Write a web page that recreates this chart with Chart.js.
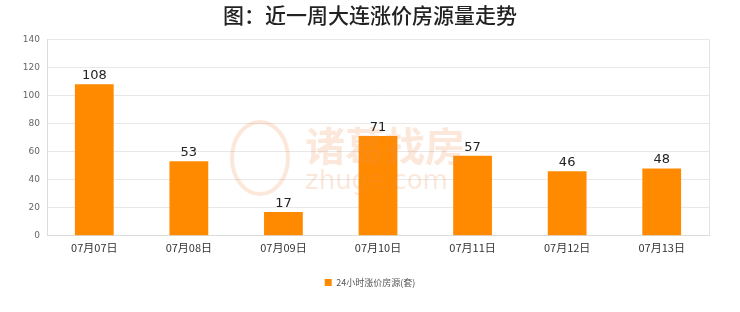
<!DOCTYPE html>
<html>
<head>
<meta charset="utf-8">
<script src="https://cdn.jsdelivr.net/npm/chart.js@4.4.0/dist/chart.umd.min.js"></script>
<style>
    html, body { margin: 0; padding: 0; background: #fff; }
    #wrap { width: 740px; height: 312px; position: relative; }
</style>
</head>
<body>
<div id="wrap"><canvas id="priceChart"></canvas></div>
<script>
// 数据
const categories = ['07月07日', '07月08日', '07月09日', '07月10日', '07月11日', '07月12日', '07月13日'];
const riseCounts = [108, 53, 17, 71, 57, 46, 48];
const yTicks = [0, 20, 40, 60, 80, 100, 120, 140];

const FONT = '"Noto Sans CJK SC", "DejaVu Sans", sans-serif';

// 柱顶数值 + 右边框 + 水印
const extras = {
    id: 'extras',
    beforeDatasetsDraw(chart) {
        const ctx = chart.ctx;
        const a = chart.chartArea;
        ctx.save();
        ctx.strokeStyle = '#e3e3e3';
        ctx.lineWidth = 1;
        ctx.beginPath();
        ctx.moveTo(Math.round(a.right) + 0.5, a.top);
        ctx.lineTo(Math.round(a.right) + 0.5, a.bottom);
        ctx.stroke();
        ctx.restore();
    },
    afterDatasetsDraw(chart) {
        const ctx = chart.ctx;
        ctx.save();
        // 水印
        ctx.globalAlpha = 0.2;
        ctx.fillStyle = '#f08a4b';
        ctx.textAlign = 'left';
        ctx.textBaseline = 'middle';
        ctx.font = 'bold 40px ' + FONT;
        ctx.fillText('诸葛找房', 305, 146);
        ctx.font = '26px "DejaVu Sans", sans-serif';
        ctx.fillText('zhuge.com', 305, 182);
        ctx.beginPath();
        ctx.ellipse(260, 158, 28, 36, 0, 0, Math.PI * 2);
        ctx.lineWidth = 4;
        ctx.strokeStyle = '#f08a4b';
        ctx.stroke();
        ctx.globalAlpha = 1;
        // 数值
        ctx.fillStyle = '#222';
        ctx.font = '13px "DejaVu Sans", sans-serif';
        ctx.textAlign = 'center';
        ctx.textBaseline = 'bottom';
        chart.getDatasetMeta(0).data.forEach((bar, i) => {
            ctx.fillText(String(riseCounts[i]), bar.x, bar.y - 2);
        });
        ctx.restore();
    }
};

const chartCtx = document.getElementById('priceChart').getContext('2d');
const priceChart = new Chart(chartCtx, {
    type: 'bar',
    data: {
        labels: categories,
        datasets: [{
            label: '24小时涨价房源(套)',
            data: riseCounts,
            backgroundColor: '#ff8a00',
            borderWidth: 0,
            categoryPercentage: 1,
            barPercentage: 0.41
        }]
    },
    options: {
        responsive: true,
        maintainAspectRatio: false,
        animation: false,
        layout: {
            padding: { left: 0, right: 0, top: 0, bottom: 15 }
        },
        plugins: {
            title: {
                display: true,
                text: '图：近一周大连涨价房源量走势',
                color: '#222',
                font: { size: 21, family: FONT, weight: '500' },
                padding: { top: 2, bottom: 12 }
            },
            legend: {
                position: 'bottom',
                labels: {
                    color: '#555',
                    boxWidth: 7,
                    boxHeight: 7,
                    padding: 19,
                    font: { size: 9, family: FONT }
                }
            },
            tooltip: { enabled: false }
        },
        scales: {
            y: {
                min: 0,
                max: 140,
                afterBuildTicks(axis) {
                    axis.ticks = yTicks.map(v => ({ value: v }));
                },
                afterFit(axis) {
                    axis.width = 47;
                },
                grid: { color: '#e8e8e8', drawTicks: false },
                border: { color: '#dcdcdc' },
                ticks: {
                    color: '#666',
                    padding: 7,
                    font: { size: 9, family: '"DejaVu Sans", sans-serif' }
                }
            },
            // 右侧留白
            y2: {
                position: 'right',
                min: 0,
                max: 140,
                afterFit(axis) {
                    axis.width = 31;
                },
                grid: { display: false, drawTicks: false },
                border: { display: false },
                ticks: { display: false }
            },
            x: {
                grid: { display: false, drawTicks: false },
                border: { color: '#dcdcdc' },
                ticks: {
                    color: '#333',
                    padding: 5,
                    font: { size: 11, family: FONT }
                }
            }
        }
    },
    plugins: [extras]
});
</script>
</body>
</html>
